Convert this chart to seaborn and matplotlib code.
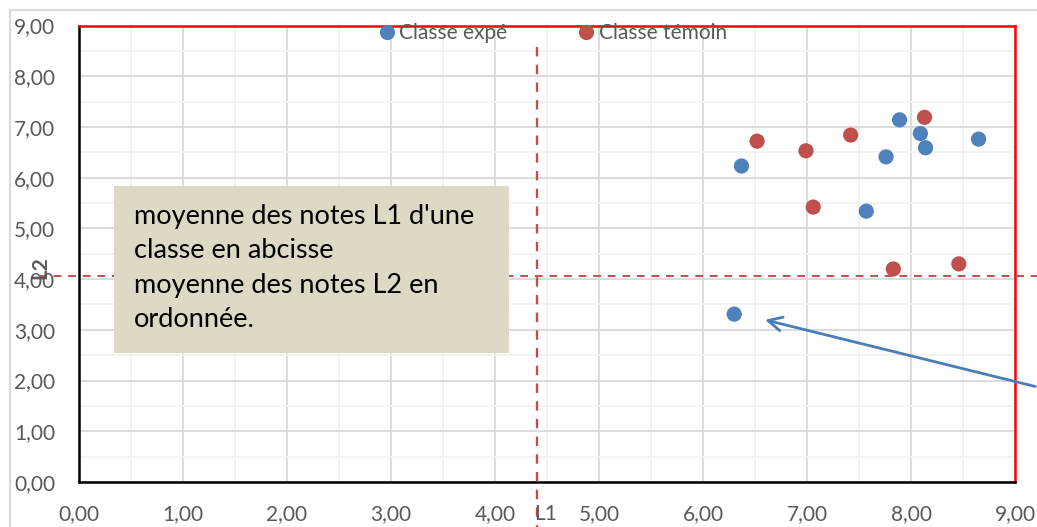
import numpy as np
import pandas as pd
import matplotlib.pyplot as plt
import seaborn as sns
from matplotlib.patches import Rectangle
from matplotlib.ticker import MultipleLocator, FuncFormatter

# moyennes L1 (x) / L2 (y) par classe
expe_l1 = [6.37, 6.30, 7.57, 7.76, 7.89, 8.09, 8.14, 8.65]
expe_l2 = [6.23, 3.31, 5.34, 6.41, 7.14, 6.87, 6.59, 6.76]
temoin_l1 = [6.52, 6.99, 7.42, 7.06, 7.83, 8.13, 8.46]
temoin_l2 = [6.72, 6.53, 6.84, 5.42, 4.20, 7.19, 4.30]
groups = ['Classe expé', 'Classe témoin']

# lignes de référence (moyennes générales)
ref_l1 = 4.40
ref_l2 = 4.07

df = pd.DataFrame({
    'L1': expe_l1 + temoin_l1,
    'L2': expe_l2 + temoin_l2,
    'classe': [groups[0]] * len(expe_l1) + [groups[1]] * len(temoin_l1),
})

sns.set_style('white')
plt.rcParams['font.family'] = ['Lato', 'DejaVu Sans']

W, H = 1037, 527
fig = plt.figure(figsize=(W / 100, H / 100), dpi=100)
ax = fig.add_axes([79 / W, 45 / H, 936 / W, 456.5 / H])

palette = {groups[0]: '#4F81BD', groups[1]: '#C0504D'}
sns.scatterplot(data=df, x='L1', y='L2', hue='classe', palette=palette,
                s=120, edgecolor='none', ax=ax, zorder=5)

ax.set_xlim(0, 9)
ax.set_ylim(0, 9)
ax.xaxis.set_major_locator(MultipleLocator(1))
ax.yaxis.set_major_locator(MultipleLocator(1))
ax.xaxis.set_minor_locator(MultipleLocator(0.5))
ax.yaxis.set_minor_locator(MultipleLocator(0.5))
fmt = FuncFormatter(lambda v, p: f"{v:.2f}".replace('.', ','))
ax.xaxis.set_major_formatter(fmt)
ax.yaxis.set_major_formatter(fmt)
ax.grid(which='major', color='#D9D9D9', lw=1.3)
ax.grid(which='minor', color='#F2F2F2', lw=1.3)
ax.set_axisbelow(True)
ax.tick_params(which='both', length=0, labelsize=15, labelcolor='#595959')
ax.tick_params(axis='y', pad=17)
ax.tick_params(axis='x', pad=16)
ax.set_xlabel('')
ax.set_ylabel('')

for side in ['left', 'bottom']:
    ax.spines[side].set_color('black')
    ax.spines[side].set_linewidth(1.8)
for side in ['top', 'right']:
    ax.spines[side].set_color('#FF0000')
    ax.spines[side].set_linewidth(1.8)

# lignes pointillées de référence
ax.plot([ref_l1, ref_l1], [8.58, -0.9], color='#C0504D', lw=1.7,
        ls=(0, (4, 3.5)), clip_on=False, zorder=3)
ax.plot([-0.38, 9.3], [ref_l2, ref_l2], color='#C0504D', lw=1.4,
        ls=(0, (4, 3.5)), clip_on=False, zorder=3)

# légende
sns.move_legend(ax, 'center', bbox_to_anchor=(0.505, 0.983), ncol=2,
                frameon=False, title=None, fontsize=15, handletextpad=0.1,
                columnspacing=3.3, handlelength=1.0, borderpad=0)
for t in ax.get_legend().get_texts():
    t.set_color('#595959')

# encadré
fig.patches.append(Rectangle((114 / W, (H - 353) / H), 395 / W, 167 / H,
                             transform=fig.transFigure, facecolor='#DDD9C4',
                             edgecolor='none', zorder=6))
fig.text(134 / W, (H - 204) / H,
         "moyenne des notes L1 d'une\nclasse en abcisse\nmoyenne des notes L2 en\nordonnée.",
         fontsize=19.5, color='black', va='top', ha='left', linespacing=1.47,
         zorder=7)

# flèche
ax.annotate('', xy=(6.57, 3.21), xytext=(9.22, 1.87),
            arrowprops=dict(arrowstyle='->,head_length=1.0,head_width=0.5',
                            color='#4A7EBB', lw=2),
            annotation_clip=False, zorder=8)

# titres d'axes
fig.text(40 / W, (H - 268) / H, 'L2', rotation=90, fontsize=15,
         color='#595959', ha='center', va='center', fontweight='bold')
fig.text(546 / W, (H - 514) / H, 'L1', fontsize=15, color='#595959',
         ha='center', va='center')

# cadre extérieur
fig.patches.append(Rectangle((10 / W, -0.1), 1.2, (H - 10) / H + 0.1,
                             transform=fig.transFigure, fill=False,
                             edgecolor='#D9D9D9', lw=1.5, zorder=0))

fig.savefig('out.png', dpi=100)
